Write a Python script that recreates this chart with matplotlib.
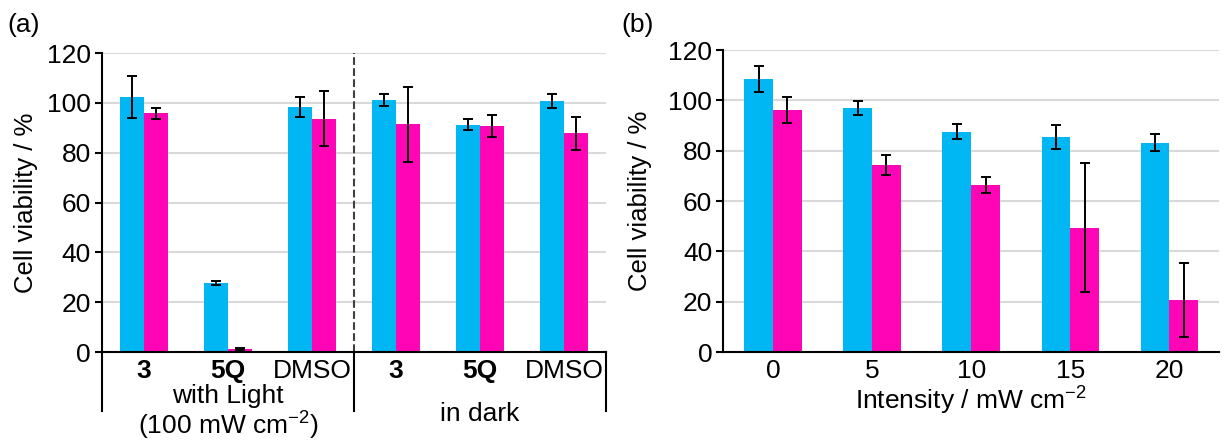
import numpy as np
import matplotlib
matplotlib.use("Agg")
import matplotlib.pyplot as plt
import matplotlib.transforms as mtransforms

plt.rcParams['font.family'] = ['Liberation Sans', 'DejaVu Sans']
plt.rcParams['mathtext.fontset'] = 'custom'
plt.rcParams['mathtext.rm'] = 'Liberation Sans'
plt.rcParams['mathtext.it'] = 'Liberation Sans:italic'
plt.rcParams['mathtext.bf'] = 'Liberation Sans:bold'

# %% data, panel (a)
a_labels = ['3', '5Q', 'DMSO', '3', '5Q', 'DMSO']
a_bold = [True, True, False, True, True, False]
a_cyan = [102.4, 27.7, 98.4, 101.1, 91.3, 100.8]
a_cyan_err = [8.5, 0.7, 3.9, 2.4, 2.3, 2.7]
a_magenta = [95.8, 1.1, 93.7, 91.4, 90.6, 87.8]
a_magenta_err = [2.1, 0.4, 11.0, 15.1, 4.4, 6.7]

# %% data, panel (b)
b_labels = ['0', '5', '10', '15', '20']
b_cyan = [108.4, 96.9, 87.6, 85.3, 83.1]
b_cyan_err = [5.1, 2.9, 2.9, 4.8, 3.4]
b_magenta = [96.1, 74.3, 66.3, 49.4, 20.5]
b_magenta_err = [5.3, 4.0, 3.1, 25.7, 14.7]

cyan = '#00B7F3'
magenta = '#FF05B6'
grid_c = '#D9D9D9'
fs = 19

fig = plt.figure(figsize=(12.31, 4.41), dpi=100)
ax1 = fig.add_axes([0.0829, 0.2018, 0.4094, 0.678])
ax2 = fig.add_axes([0.5877, 0.2018, 0.4025, 0.6848])

def style_axis(ax):
    ax.set_ylim(0, 120)
    ax.set_yticks(np.arange(0, 121, 20))
    ax.grid(axis='y', color=grid_c, lw=1.5)
    ax.set_axisbelow(True)
    for s in ['top', 'right']:
        ax.spines[s].set_visible(False)
    ax.spines['left'].set_linewidth(1.5)
    ax.spines['bottom'].set_linewidth(1.5)
    ax.spines['bottom'].set_zorder(5)
    ax.tick_params(axis='y', labelsize=fs, length=5, width=1.5, direction='out', pad=3)
    ax.tick_params(axis='x', labelsize=fs, length=0, pad=5)
    ax.set_ylabel('Cell viability / %', fontsize=18.5)

def draw_bars(ax, cyan_vals, cyan_err, mag_vals, mag_err, w):
    x = np.arange(len(cyan_vals))
    ekw = dict(elinewidth=1.4, capthick=1.4, ecolor='black')
    ax.bar(x - w / 2, cyan_vals, w, color=cyan, yerr=cyan_err, capsize=3.5, error_kw=ekw)
    ax.bar(x + w / 2, mag_vals, w, color=magenta, yerr=mag_err, capsize=3.5, error_kw=ekw)
    return x

# %% panel (a)
x1 = draw_bars(ax1, a_cyan, a_cyan_err, a_magenta, a_magenta_err, 0.286)
style_axis(ax1)
ax1.set_xlim(-0.5, len(a_labels) - 0.5)
ax1.set_xticks(x1)
ax1.set_xticklabels(a_labels)
for lab, b in zip(ax1.get_xticklabels(), a_bold):
    if b:
        lab.set_fontweight('bold')
ax1.axvline(2.5, color='#404040', ls='--', lw=1.5)
tr = mtransforms.blended_transform_factory(ax1.transData, ax1.transAxes)
for xb in [-0.5, 2.5, 5.5]:
    ax1.plot([xb, xb], [0, -0.197], transform=tr, color='black', lw=1.5, clip_on=False)
ax1.text(1, -0.147, 'with Light', transform=tr, ha='center', va='center', fontsize=fs)
ax1.text(1, -0.247, '(100 mW cm$^{-2}$)', transform=tr, ha='center', va='center', fontsize=fs)
ax1.text(4, -0.207, 'in dark', transform=tr, ha='center', va='center', fontsize=fs)
ax1.yaxis.set_label_coords(-0.127, 0.5)

# %% panel (b)
x2 = draw_bars(ax2, b_cyan, b_cyan_err, b_magenta, b_magenta_err, 0.29)
style_axis(ax2)
ax2.set_xlim(-0.5, len(b_labels) - 0.5)
ax2.set_xticks(x2)
ax2.set_xticklabels(b_labels)
ax2.set_xlabel('Intensity / mW cm$^{-2}$', fontsize=fs, labelpad=1)
ax2.yaxis.set_label_coords(-0.144, 0.5)

fig.text(0.006, 0.943, '(a)', fontsize=fs, va='center', ha='left')
fig.text(0.505, 0.943, '(b)', fontsize=fs, va='center', ha='left')

fig.savefig('out.png', dpi=100)
